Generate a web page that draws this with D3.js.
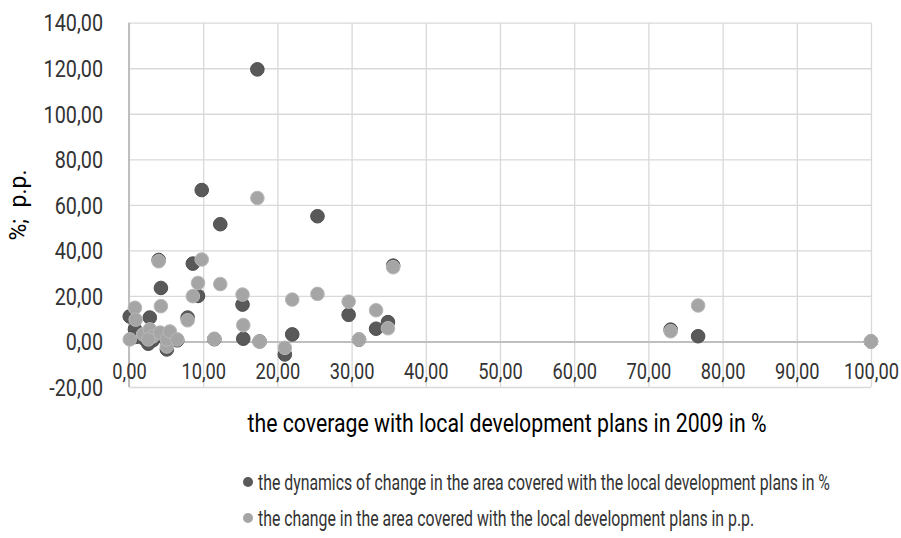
<!DOCTYPE html>
<html><head><meta charset="utf-8">
<script src="https://cdn.jsdelivr.net/npm/d3@7"></script>
<style>
body{margin:0;background:#fff;}
text{font-family:Roboto,"Noto Sans",sans-serif;}
</style></head>
<body><svg id="c" width="901" height="538"></svg>
<script>
// coverage with local development plans in 2009 (%) – shared x for both series
const coverage = [17.3, 9.8, 12.3, 25.4, 35.6, 8.6, 4.0, 4.3, 9.3, 15.3, 29.6, 33.3, 34.9, 15.4, 21.0, 22.0, 76.7, 73.0, 7.9, 100.0, 17.6, 31.0, 11.5,
                  0.1, 0.8, 0.9, 1.9, 2.8, 3.2, 4.2, 5.1, 5.1, 5.5, 6.5, 2.6];
// dynamics of change in area covered (%)
const dynamics = [119.5, 66.5, 51.5, 55.0, 33.3, 34.2, 35.8, 23.5, 20.0, 16.2, 11.7, 5.6, 8.5, 1.2, -5.7, 3.1, 2.3, 5.2, 10.5, 0.0, 0.0, 0.8, 1.0,
                  11.0, 5.3, 2.0, 1.5, 10.5, 0.5, 2.5, -3.5, 0.3, 3.0, 0.5, -1.0];
// change in area covered (p.p.)
const change = [63.0, 36.0, 25.2, 20.9, 32.6, 19.9, 35.2, 15.5, 25.7, 20.6, 17.5, 13.7, 5.8, 7.2, -2.8, 18.4, 15.8, 4.5, 9.3, 0.0, -0.1, 0.9, 1.2,
                0.9, 14.8, 9.6, 3.1, 5.3, 2.2, 3.9, -2.2, 0.9, 4.4, 0.9, 0.9];
const xTicks = [0, 10, 20, 30, 40, 50, 60, 70, 80, 90, 100];
const yTicks = [-20, 0, 20, 40, 60, 80, 100, 120, 140];
const seriesNames = ["the dynamics of change in the area covered with the local development plans in %",
                     "the change in the area covered with the local development plans in p.p."];
const xTitle = "the coverage with local development plans in 2009 in %";
const yTitle = "%;  p.p.";

const svg = d3.select("#c");
const m = {l:129, t:22.7, r:30, b:151};
const W = 901 - m.l - m.r, H = 538 - m.t - m.b;
const x = d3.scaleLinear().domain([0,100]).range([0, W]);
const y = d3.scaleLinear().domain([-20,140]).range([H, 0]);
const loc = d3.formatLocale({decimal:",", thousands:" ", grouping:[3], currency:["",""], minus:"-"});
const fmt = loc.format(".2f");
const g = svg.append("g").attr("transform",`translate(${m.l},${m.t})`);

// vertical grid
g.append("g").attr("transform",`translate(0,${H})`)
 .call(d3.axisBottom(x).tickValues(xTicks).tickSize(-H).tickFormat(""))
 .call(s=>{s.select(".domain").remove(); s.selectAll("line").attr("stroke","#d9d9d9").attr("stroke-width",1.3);});
// horizontal grid + y labels
const ya = g.append("g")
 .call(d3.axisLeft(y).tickValues(yTicks).tickSize(-W).tickPadding(0).tickFormat(fmt))
 .call(s=>{s.select(".domain").remove(); s.selectAll("line").attr("stroke","#d9d9d9").attr("stroke-width",1.3);});
ya.selectAll("text").attr("font-size",23).attr("fill","#333")
  .attr("x",null).attr("dy","0.36em").attr("transform",`translate(-26,0) scale(0.86,1)`);
// left axis line
g.append("line").attr("x1",0).attr("x2",0).attr("y1",0).attr("y2",H).attr("stroke","#bfbfbf").attr("stroke-width",2);
// zero axis with labels
const xa = g.append("g").attr("transform",`translate(0,${y(0)})`)
 .call(d3.axisBottom(x).tickValues(xTicks).tickSize(0).tickPadding(22).tickFormat(fmt))
 .call(s=>s.select(".domain").attr("stroke","#bfbfbf").attr("stroke-width",2));
xa.selectAll("text").attr("font-size",22).attr("fill","#333").each(function(){
  const t=d3.select(this); const yy=t.attr("y"); t.attr("y",null).attr("transform",`translate(0,${yy}) scale(0.83,1)`);
});

// points
const pts = coverage.map((c,i)=>({c, d:dynamics[i], p:change[i]}));
g.append("g").selectAll("circle").data(pts).join("circle")
 .attr("cx",d=>x(d.c)).attr("cy",d=>y(d.d)).attr("r",6.8)
 .attr("fill","#595959").attr("stroke","#4f4f4f").attr("stroke-width",1);
g.append("g").selectAll("circle").data(pts).join("circle")
 .attr("cx",d=>x(d.c)).attr("cy",d=>y(d.p)).attr("r",6.8)
 .attr("fill","#a5a5a5").attr("stroke","#b8b8b8").attr("stroke-width",1);

// titles
svg.append("text").attr("transform",`translate(507,432) scale(0.85,1)`).attr("text-anchor","middle")
 .attr("font-size",25).attr("fill","#000").text(xTitle);
svg.append("text").attr("transform",`translate(26,205) rotate(-90)`).attr("text-anchor","middle")
 .attr("font-size",23).attr("fill","#000").style("white-space","pre").text(yTitle);

// legend
const lg = svg.append("g");
const ly = [482, 518], lc = ["#595959","#a5a5a5"];
seriesNames.forEach((n,i)=>{
  lg.append("circle").attr("cx",248).attr("cy",ly[i]).attr("r",5).attr("fill",lc[i]);
  lg.append("text").attr("transform",`translate(258,${ly[i]}) scale(0.72,1)`).attr("dy","0.35em")
    .attr("font-size",22).attr("fill","#333").text(n);
});
</script></body></html>
